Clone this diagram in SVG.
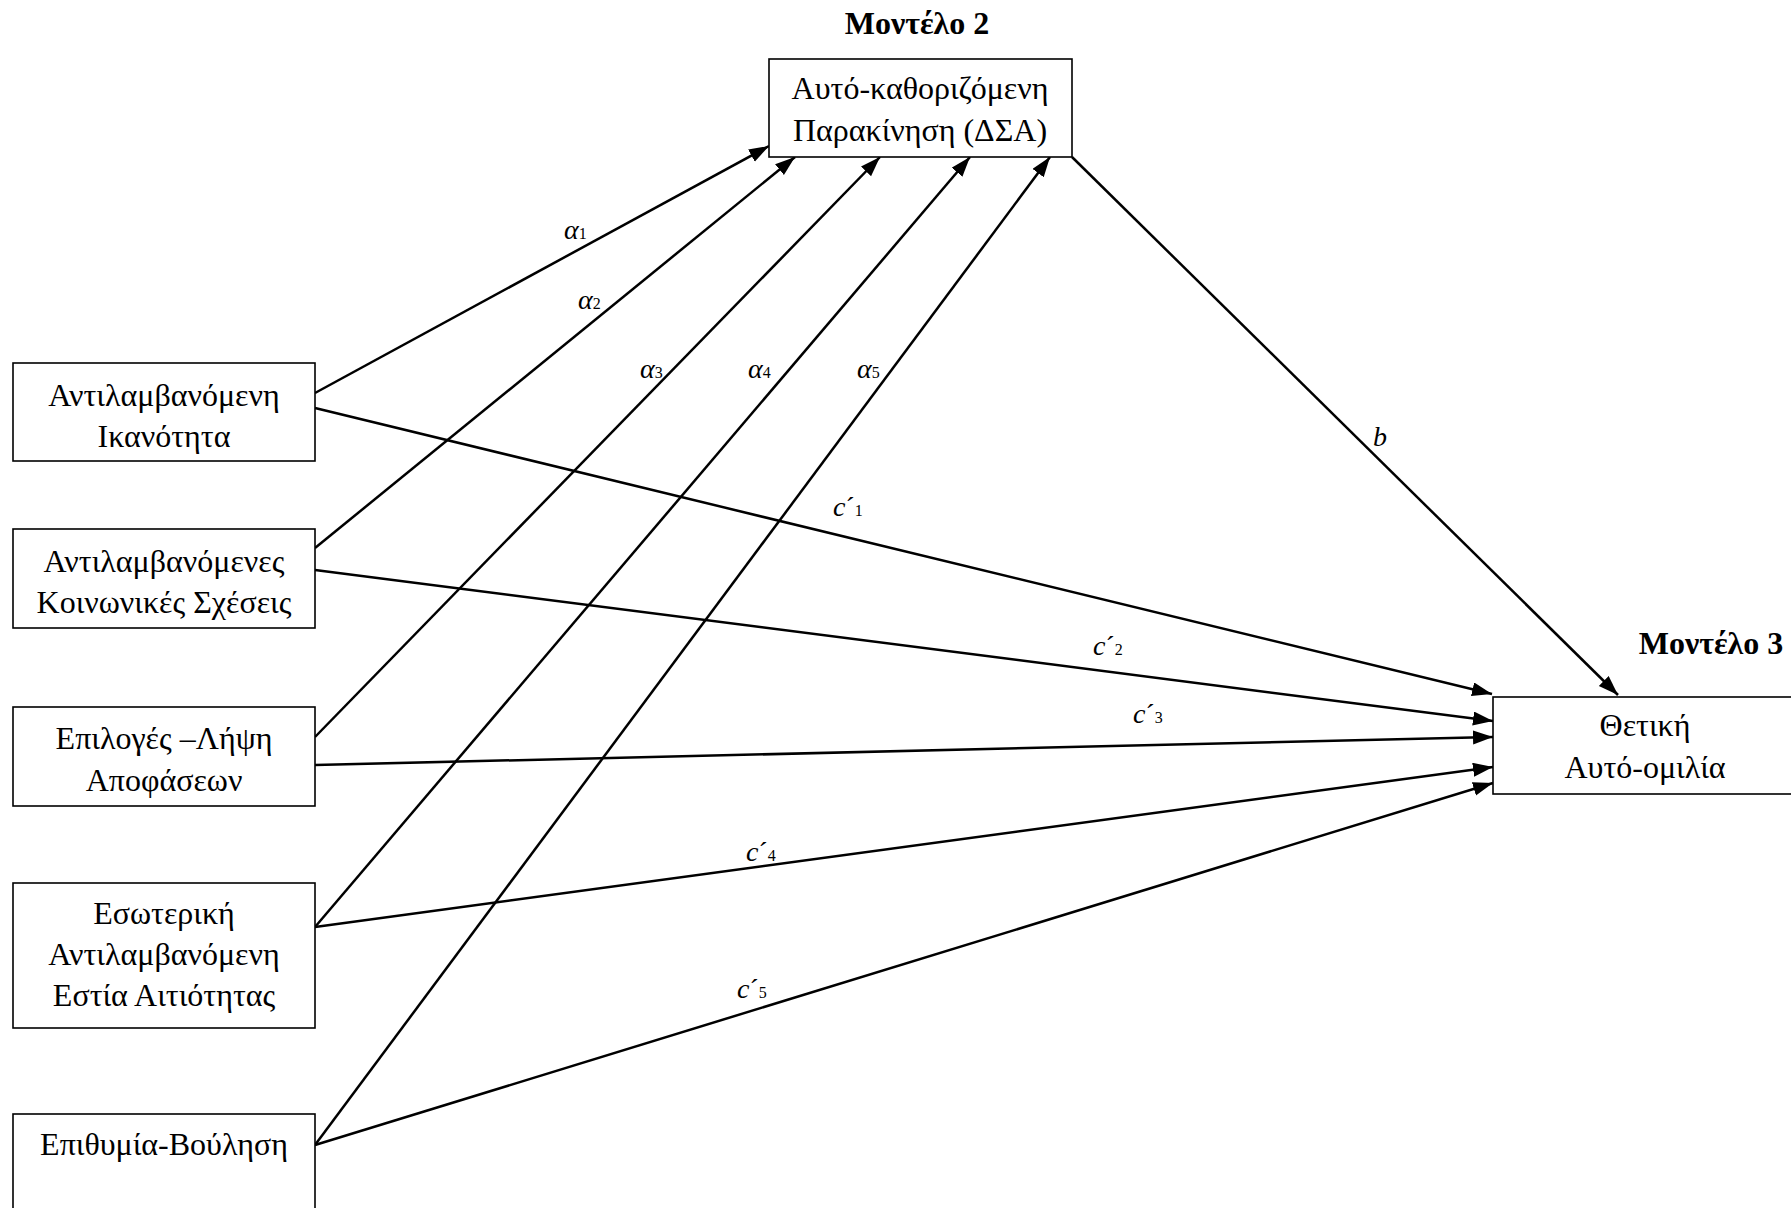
<svg xmlns="http://www.w3.org/2000/svg" width="1791" height="1208" viewBox="0 0 1791 1208">
<defs>
<marker id="arr" markerUnits="userSpaceOnUse" markerWidth="22" markerHeight="16" refX="20" refY="7" orient="auto">
<path d="M0,0 L20,7 L0,14 z" fill="#000"/>
</marker>
<style>
.box{fill:#fff;stroke:#000;stroke-width:1.6}
.t{font-family:"Liberation Serif","Times New Roman",serif;font-size:32px;fill:#000;text-anchor:middle}
.h{font-family:"Liberation Serif","Times New Roman",serif;font-size:32px;font-weight:bold;fill:#000;text-anchor:middle}
.c{stroke:#000;stroke-width:2.5;fill:none;marker-end:url(#arr)}
.lab{font-family:"Liberation Serif","Times New Roman",serif;font-size:28px;font-style:italic;fill:#000}
.sub{font-size:16px;font-style:normal}
.pr{font-style:normal}
</style>
</defs>
<rect width="1791" height="1208" fill="#fff"/>
<g id="connectors">
<line class="c" x1="315" y1="393" x2="769" y2="146"/>
<line class="c" x1="315" y1="548" x2="795" y2="157"/>
<line class="c" x1="315" y1="737" x2="880" y2="157"/>
<line class="c" x1="315" y1="927" x2="970" y2="157"/>
<line class="c" x1="315" y1="1145" x2="1050" y2="157"/>
<line class="c" x1="1072" y1="157" x2="1618" y2="695"/>
<line class="c" x1="315" y1="408" x2="1492" y2="694"/>
<line class="c" x1="315" y1="570" x2="1493" y2="721"/>
<line class="c" x1="315" y1="765" x2="1493" y2="737"/>
<line class="c" x1="315" y1="927" x2="1493" y2="767"/>
<line class="c" x1="315" y1="1145" x2="1493" y2="783"/>
</g>
<g id="labels">
<text class="lab" x="564" y="239">α<tspan class="sub">1</tspan></text>
<text class="lab" x="578" y="309">α<tspan class="sub">2</tspan></text>
<text class="lab" x="640" y="378">α<tspan class="sub">3</tspan></text>
<text class="lab" x="748" y="378">α<tspan class="sub">4</tspan></text>
<text class="lab" x="857" y="378">α<tspan class="sub">5</tspan></text>
<text class="lab" x="1373" y="446">b</text>
<text class="lab" x="833" y="516">c<tspan class="pr">´</tspan><tspan class="sub">1</tspan></text>
<text class="lab" x="1093" y="655">c<tspan class="pr">´</tspan><tspan class="sub">2</tspan></text>
<text class="lab" x="1133" y="723">c<tspan class="pr">´</tspan><tspan class="sub">3</tspan></text>
<text class="lab" x="746" y="861">c<tspan class="pr">´</tspan><tspan class="sub">4</tspan></text>
<text class="lab" x="737" y="998">c<tspan class="pr">´</tspan><tspan class="sub">5</tspan></text>
</g>
<g id="title2"><text class="h" x="917" y="34">Μοντέλο 2</text></g>
<g id="title3"><text class="h" x="1711" y="654">Μοντέλο 3</text></g>
<g id="node-dsa">
<rect class="box" x="769" y="59" width="303" height="98"/>
<text class="t" x="920" y="99">Αυτό-καθοριζόμενη</text>
<text class="t" x="920" y="141">Παρακίνηση (ΔΣΑ)</text>
</g>
<g id="node-out">
<rect class="box" x="1493" y="697" width="304" height="97"/>
<text class="t" x="1645" y="736">Θετική</text>
<text class="t" x="1645" y="778">Αυτό-ομιλία</text>
</g>
<g id="node-1">
<rect class="box" x="13" y="363" width="302" height="98"/>
<text class="t" x="164" y="406">Αντιλαμβανόμενη</text>
<text class="t" x="164" y="447">Ικανότητα</text>
</g>
<g id="node-2">
<rect class="box" x="13" y="529" width="302" height="99"/>
<text class="t" x="164" y="572">Αντιλαμβανόμενες</text>
<text class="t" x="164" y="613">Κοινωνικές Σχέσεις</text>
</g>
<g id="node-3">
<rect class="box" x="13" y="707" width="302" height="99"/>
<text class="t" x="164" y="749">Επιλογές –Λήψη</text>
<text class="t" x="164" y="791">Αποφάσεων</text>
</g>
<g id="node-4">
<rect class="box" x="13" y="883" width="302" height="145"/>
<text class="t" x="164" y="924">Εσωτερική</text>
<text class="t" x="164" y="965">Αντιλαμβανόμενη</text>
<text class="t" x="164" y="1006">Εστία Αιτιότητας</text>
</g>
<g id="node-5">
<rect class="box" x="13" y="1114" width="302" height="110"/>
<text class="t" x="164" y="1155">Επιθυμία-Βούληση</text>
</g>
</svg>
